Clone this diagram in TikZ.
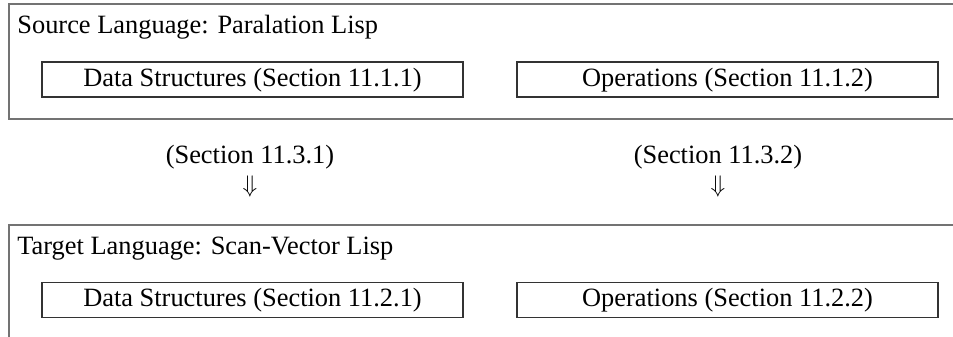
\documentclass[tikz,border=0pt]{standalone}
\usepackage{fontspec}
\setmainfont{Liberation Serif}
\usetikzlibrary{positioning}

\begin{document}
\begin{tikzpicture}[x=0.5pt,y=-0.5pt,
  every node/.style={font=\fontsize{13.2}{15}\selectfont},
  frame/.style={draw=black!55,line width=1pt},
  part/.style={draw=black!80,line width=0.75pt,minimum width=210.5pt,minimum height=17.5pt,
    inner sep=0pt,text height=0.66em,text depth=0pt},
  title/.style={anchor=base west,inner sep=0pt},
  steplabel/.style={anchor=base,inner sep=0pt}]
  \useasboundingbox (0,0) rectangle (953,337);
  \clip (0,0) rectangle (953,337);
  % source language, frame runs off at the right
  \draw[frame] (9,4) rectangle (990,119);
  \node[title] (src) at (17,33) {Source Language: Paralation Lisp};
  \node[part] (srcdata) at (252.5,79.5) {Data Structures (Section 11.1.1)};
  \node[part] (srcops) at (727.5,79.5) {Operations (Section 11.1.2)};
  % translation steps
  \node[steplabel] (stepdata) at (250,163) {(Section 11.3.1)};
  \node[below=3pt of stepdata,inner sep=0pt] (arrdata) {$\Downarrow$};
  \node[steplabel] (stepops) at (718,163) {(Section 11.3.2)};
  \node[below=3pt of stepops,inner sep=0pt] (arrops) {$\Downarrow$};
  % target language, frame runs off at the right and bottom
  \draw[frame] (9,225) rectangle (990,360);
  \node[title] (tgt) at (17,254) {Target Language: Scan-Vector Lisp};
  \node[part] (tgtdata) at (252.5,300) {Data Structures (Section 11.2.1)};
  \node[part] (tgtops) at (727.5,300) {Operations (Section 11.2.2)};
\end{tikzpicture}
\end{document}
